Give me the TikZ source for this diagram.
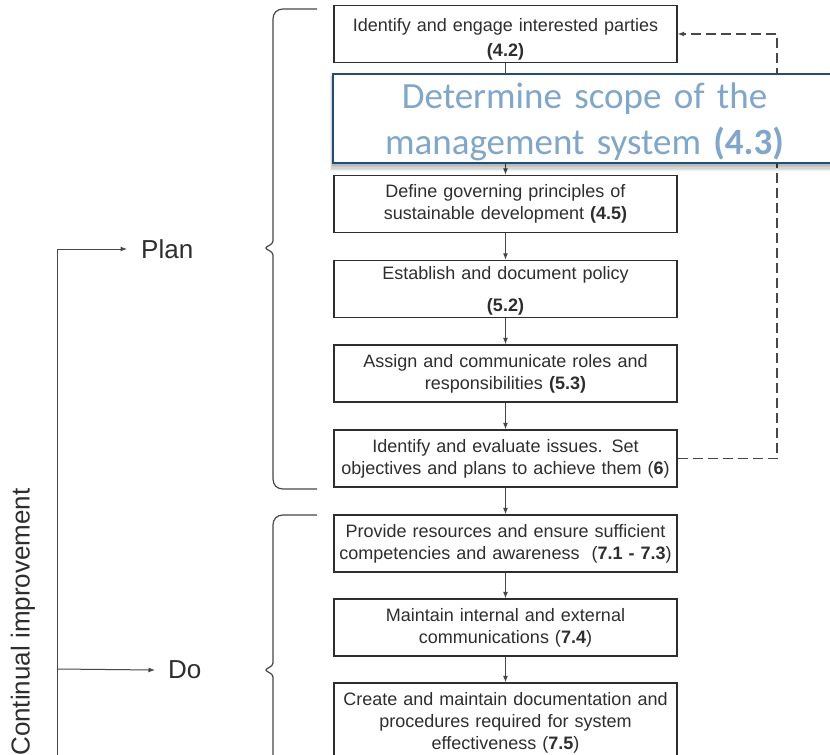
\documentclass[tikz,border=0pt]{standalone}
\usepackage{fontspec}
\setmainfont{Liberation Sans}
\newfontfamily\calibrifont{Carlito}
\usetikzlibrary{arrows.meta}
\definecolor{ink}{HTML}{2E2E2E}
\definecolor{wire}{HTML}{474747}
\definecolor{navy}{HTML}{1F4E79}
\definecolor{steel}{HTML}{7FA6CC}
\pgfdeclarelayer{paper}
\pgfdeclarelayer{wires}
\pgfsetlayers{paper,wires,main}
% invisible strut that lowers the first line of a node's text
\newcommand{\lowerby}[1]{\rule{0pt}{#1}}
\begin{document}
\begin{tikzpicture}[x=1pt,y=-1pt,
  stepbox/.style={draw=ink, line width=1.4pt, minimum width=343pt, minimum height=57pt,
    inner sep=0pt, text width=340pt, align=center, text=ink,
    font=\fontsize{18}{22}\selectfont},
  flow/.style={draw=wire, line width=1pt, -{Latex[length=6.5pt,width=5pt]}},
  feedback/.style={draw=wire, line width=1.1pt, dash pattern=on 10pt off 5pt,
    -{Latex[length=6.5pt,width=5pt]}},
  bracket/.style={draw=wire, line width=1.2pt},
  phase/.style={text=ink, font=\fontsize{26}{30}\selectfont, inner sep=2pt},
  callout/.style={draw=navy, line width=2.2pt, fill=white, minimum width=503pt,
    minimum height=89pt, inner sep=0pt, text width=495pt, align=center, text=steel,
    font=\calibrifont\fontsize{37}{44}\selectfont},
]
\useasboundingbox (0,0) rectangle (830,755);
\clip (0,0) rectangle (830,755);
\begin{pgfonlayer}{paper}
  \fill[white] (0,0) rectangle (830,755);
\end{pgfonlayer}

% process steps
\node[stepbox] (b1) at (505.5,34) {\lowerby{24pt}Identify and engage interested parties\\[3pt]\textbf{(4.2)}};
\node[stepbox] (b2) at (505.5,204) {Define governing principles of\\sustainable development \textbf{(4.5)}};
\node[stepbox] (b3) at (505.5,289) {\lowerby{16.5pt}Establish and document policy\\[10pt]\textbf{(5.2)}};
\node[stepbox] (b4) at (505.5,373.5) {Assign and communicate roles and\\responsibilities \textbf{(5.3)}};
\node[stepbox] (b5) at (505.5,458.5) {Identify and evaluate issues. Set\\objectives and plans to achieve them (\textbf{6})};
\node[stepbox] (b6) at (505.5,543.5) {Provide resources and ensure sufficient\\competencies and awareness\ \ (\textbf{7.1 - 7.3})};
\node[stepbox] (b7) at (505.5,627.5) {Maintain internal and external\\communications (\textbf{7.4})};
\node[stepbox, minimum height=80pt] (b8) at (505.5,723) {Create and maintain documentation and\\procedures required for system\\effectiveness (\textbf{7.5})};

% soft shadow under the scope callout
\foreach \k in {1,...,6}
  \fill[black, opacity=0.06] (333-0.5*\k, 74+0.3*\k) rectangle (840, 163+1.4*\k);
\node[callout] (scope) at (584.5,118.5) {\lowerby{33pt}Determine scope of the\\[2pt]management system \textbf{(4.3)}};

% connectors
\begin{pgfonlayer}{wires}
  \draw[draw=wire, line width=1pt] (b1.south) -- (b1.south |- scope.north);
  \draw[flow] (b2.north |- scope.south) -- (b2.north);
  \draw[flow] (b2) -- (b3);
  \draw[flow] (b3) -- (b4);
  \draw[flow] (b4) -- (b5);
  \draw[flow] (b5) -- (b6);
  \draw[flow] (b6) -- (b7);
  \draw[flow] (b7) -- (b8);
  \coordinate (fbx) at (777,0);
  \draw[feedback] (b5.east) -- (b5.east -| fbx) |- (b1.east);
\end{pgfonlayer}

% phase braces
\draw[bracket] (317,9) -- (283,9) .. controls (277,9) and (273,13) .. (273,19)
  -- (273,241) .. controls (273,245) and (266,246) .. (266,248)
  .. controls (266,250) and (273,251) .. (273,255)
  -- (273,479) .. controls (273,485) and (277,489) .. (283,489) -- (317,489);
\draw[bracket] (317,515) -- (283,515) .. controls (277,515) and (273,519) .. (273,525)
  -- (273,663) .. controls (273,667) and (266,668) .. (266,670)
  .. controls (266,672) and (273,673) .. (273,677) -- (273,775);

% phase labels and improvement loop
\node[phase, anchor=west] (plan) at (139,249) {Plan};
\node[phase, anchor=west] (do) at (166,670) {Do};
\node[phase, rotate=90] (ci) at (23,622) {Continual improvement};
\coordinate (loopfoot) at (57,775);
\coordinate (dofork) at (57,669);
\draw[flow] (loopfoot) |- ([xshift=-12pt]plan.west);
\draw[flow] (dofork) -- ([xshift=-11pt]do.west);
\end{tikzpicture}
\end{document}
